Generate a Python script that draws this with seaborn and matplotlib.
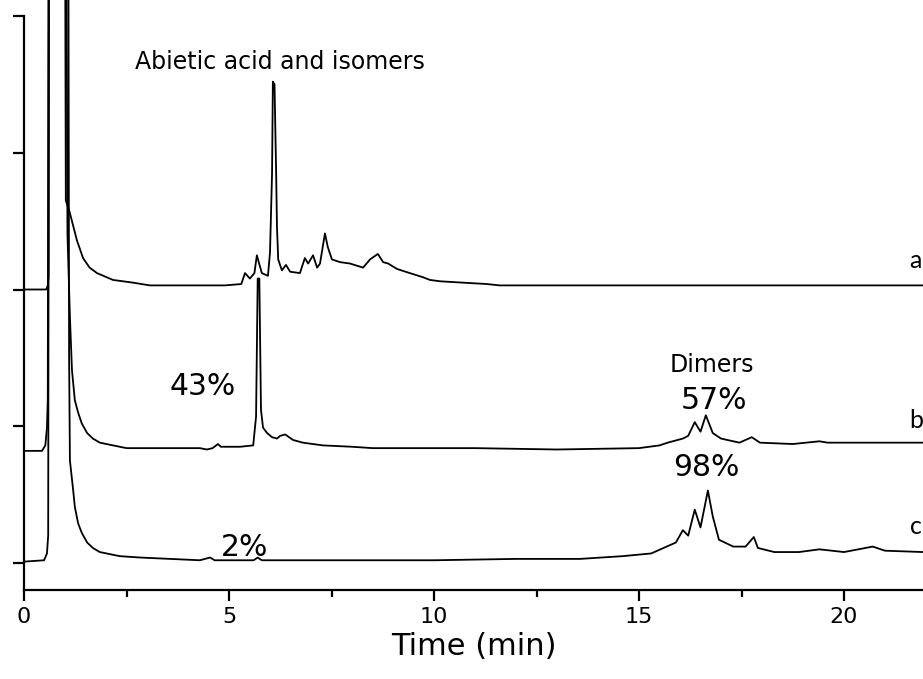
import numpy as np
import pandas as pd
import matplotlib
matplotlib.use("Agg")
import matplotlib.pyplot as plt
import seaborn as sns
from matplotlib.ticker import MultipleLocator

# ---- data (retention time in min, offset detector signal in arbitrary units) ----
t_a = [0.0, 0.54, 0.57, 0.585, 0.60, 0.61, 1.00, 1.02, 1.10, 1.17, 1.29, 1.44, 1.60, 1.78, 2.17,
       2.66, 3.07, 3.49, 4.29, 4.90, 5.30, 5.39, 5.51, 5.62, 5.68, 5.80, 5.95, 6.00, 6.05, 6.07,
       6.11, 6.15, 6.17, 6.20, 6.29, 6.39, 6.49, 6.73, 6.85, 6.93, 7.05, 7.15, 7.22, 7.34, 7.41,
       7.51, 7.71, 7.95, 8.27, 8.44, 8.63, 8.76, 8.88, 9.10, 9.41, 9.73, 9.90, 10.15, 10.71,
       11.29, 11.60, 13.0, 14.5, 16.0, 17.5, 19.0, 20.5, 21.93]
y_a = [2.00, 2.00, 2.02, 2.04, 2.10, 5.00, 5.00, 2.65, 2.58, 2.50, 2.36, 2.23, 2.16, 2.12, 2.07,
       2.05, 2.03, 2.03, 2.03, 2.03, 2.04, 2.12, 2.08, 2.12, 2.25, 2.12, 2.10, 2.27, 2.85, 3.52,
       3.50, 2.85, 2.46, 2.22, 2.14, 2.18, 2.13, 2.12, 2.23, 2.19, 2.25, 2.16, 2.19, 2.41, 2.31,
       2.22, 2.20, 2.19, 2.16, 2.22, 2.26, 2.20, 2.19, 2.15, 2.12, 2.09, 2.07, 2.06, 2.05,
       2.04, 2.03, 2.03, 2.03, 2.03, 2.03, 2.03, 2.03, 2.03]

t_b = [0.0, 0.44, 0.52, 0.56, 0.58, 0.60, 1.03, 1.06, 1.12, 1.17, 1.24, 1.32, 1.41, 1.54, 1.68,
       1.85, 2.17, 2.50, 2.83, 4.29, 4.46, 4.60, 4.73, 4.80, 5.27, 5.59, 5.66, 5.70, 5.74, 5.78,
       5.83, 5.93, 6.05, 6.17, 6.25, 6.37, 6.56, 6.80, 7.29, 8.00, 8.50, 11.0, 13.0, 15.0, 15.5,
       15.7, 16.07, 16.2, 16.36, 16.5, 16.63, 16.8, 17.0, 17.45, 17.75, 17.95, 18.75, 19.4, 19.6,
       21.93]
y_b = [0.82, 0.82, 0.86, 0.99, 1.20, 5.00, 5.00, 2.40, 1.80, 1.41, 1.19, 1.10, 1.02, 0.95, 0.91,
       0.88, 0.86, 0.84, 0.84, 0.84, 0.83, 0.84, 0.87, 0.85, 0.85, 0.86, 1.07, 2.08, 2.08, 1.12,
       0.99, 0.95, 0.92, 0.91, 0.93, 0.94, 0.90, 0.88, 0.86, 0.85, 0.84, 0.84, 0.83, 0.84, 0.86,
       0.88, 0.91, 0.93, 1.03, 0.96, 1.08, 0.95, 0.91, 0.88, 0.92, 0.88, 0.87, 0.89, 0.88,
       0.88]

t_c = [0.0, 0.49, 0.56, 0.59, 0.61, 1.08, 1.10, 1.12, 1.20, 1.24, 1.32, 1.41, 1.54, 1.68, 1.85,
       2.17, 2.34, 2.83, 4.29, 4.54, 4.65, 5.60, 5.70, 5.80, 8.00, 10.0, 12.0, 13.56, 14.6, 15.3,
       15.6, 15.9, 16.07, 16.2, 16.36, 16.5, 16.68, 16.8, 16.95, 17.3, 17.6, 17.8, 17.9, 18.3,
       18.9, 19.4, 20.0, 20.7, 21.0, 21.93]
y_c = [0.01, 0.02, 0.07, 0.20, 5.00, 5.00, 1.50, 0.75, 0.53, 0.41, 0.29, 0.22, 0.15, 0.11, 0.08,
       0.06, 0.05, 0.04, 0.02, 0.04, 0.02, 0.02, 0.04, 0.02, 0.02, 0.02, 0.03, 0.03, 0.05, 0.07,
       0.11, 0.15, 0.24, 0.20, 0.39, 0.26, 0.53, 0.34, 0.17, 0.12, 0.12, 0.19, 0.11, 0.08,
       0.08, 0.10, 0.08, 0.12, 0.09, 0.08]

trace_names = ["a", "b", "c"]
x_ticks = [0, 5, 10, 15, 20]
x_label = "Time (min)"

# ---- figure ----
sns.set_style("ticks")
plt.rcParams["font.family"] = ["DejaVu Sans"]
plt.rcParams["text.color"] = "black"
plt.rcParams["axes.labelcolor"] = "black"
plt.rcParams["xtick.color"] = "black"
plt.rcParams["ytick.color"] = "black"
plt.rcParams["axes.edgecolor"] = "black"

W, H = 923, 679
fig = plt.figure(figsize=(W / 100, H / 100), dpi=100)
x_left_px, x_right_px = 24, 923
y_bot_px, y_top_px = 590, 0
ax = fig.add_axes([x_left_px / W, (H - y_bot_px) / H,
                   (x_right_px - x_left_px) / W, (y_bot_px - y_top_px) / H])

for tt, yy in [(t_a, y_a), (t_b, y_b), (t_c, y_c)]:
    sns.lineplot(x=tt, y=yy, ax=ax, color="black", lw=1.3, sort=False, estimator=None)

px_per_unit = 136.75
ax.set_xlim(0, (x_right_px - x_left_px) / 41.0)
ax.set_ylim(-(y_bot_px - 563) / px_per_unit, 563 / px_per_unit)

for s in ["top", "right"]:
    ax.spines[s].set_visible(False)
ax.spines["left"].set_bounds(ax.get_ylim()[0], 4.0)
ax.spines["left"].set_linewidth(1.6)
ax.spines["bottom"].set_linewidth(1.6)

ax.set_xticks(x_ticks)
ax.set_xticklabels([str(v) for v in x_ticks], fontsize=16, color="black")
ax.xaxis.set_minor_locator(MultipleLocator(2.5))
ax.set_yticks([0, 1, 2, 3, 4])
ax.set_yticklabels([])
ax.tick_params(axis="both", which="major", direction="out", length=8, width=1.6, color="black", pad=4)
ax.tick_params(axis="x", which="minor", direction="out", length=5, width=1.6, color="black")
ax.set_xlabel(x_label, fontsize=22, labelpad=4, color="black")
ax.set_ylabel("")

# annotations
ax.text(6.24, 3.66, "Abietic acid and isomers", fontsize=17, ha="center", va="center", color="black")
ax.text(4.37, 1.29, "43%", fontsize=21.5, ha="center", va="center", color="black")
ax.text(16.78, 1.45, "Dimers", fontsize=17, ha="center", va="center", color="black")
ax.text(16.83, 1.19, "57%", fontsize=21.5, ha="center", va="center", color="black")
ax.text(16.63, 0.695, "98%", fontsize=21.5, ha="center", va="center", color="black")
ax.text(5.37, 0.117, "2%", fontsize=21.5, ha="center", va="center", color="black")

label_y = [(563 - 260) / px_per_unit, (563 - 420) / px_per_unit, (563 - 526) / px_per_unit]
for name, ly in zip(trace_names, label_y):
    ax.text(21.6, ly, name, fontsize=18, ha="left", va="center", color="black",
            family=["Lato", "DejaVu Sans"])

fig.savefig("out.png", dpi=100)
